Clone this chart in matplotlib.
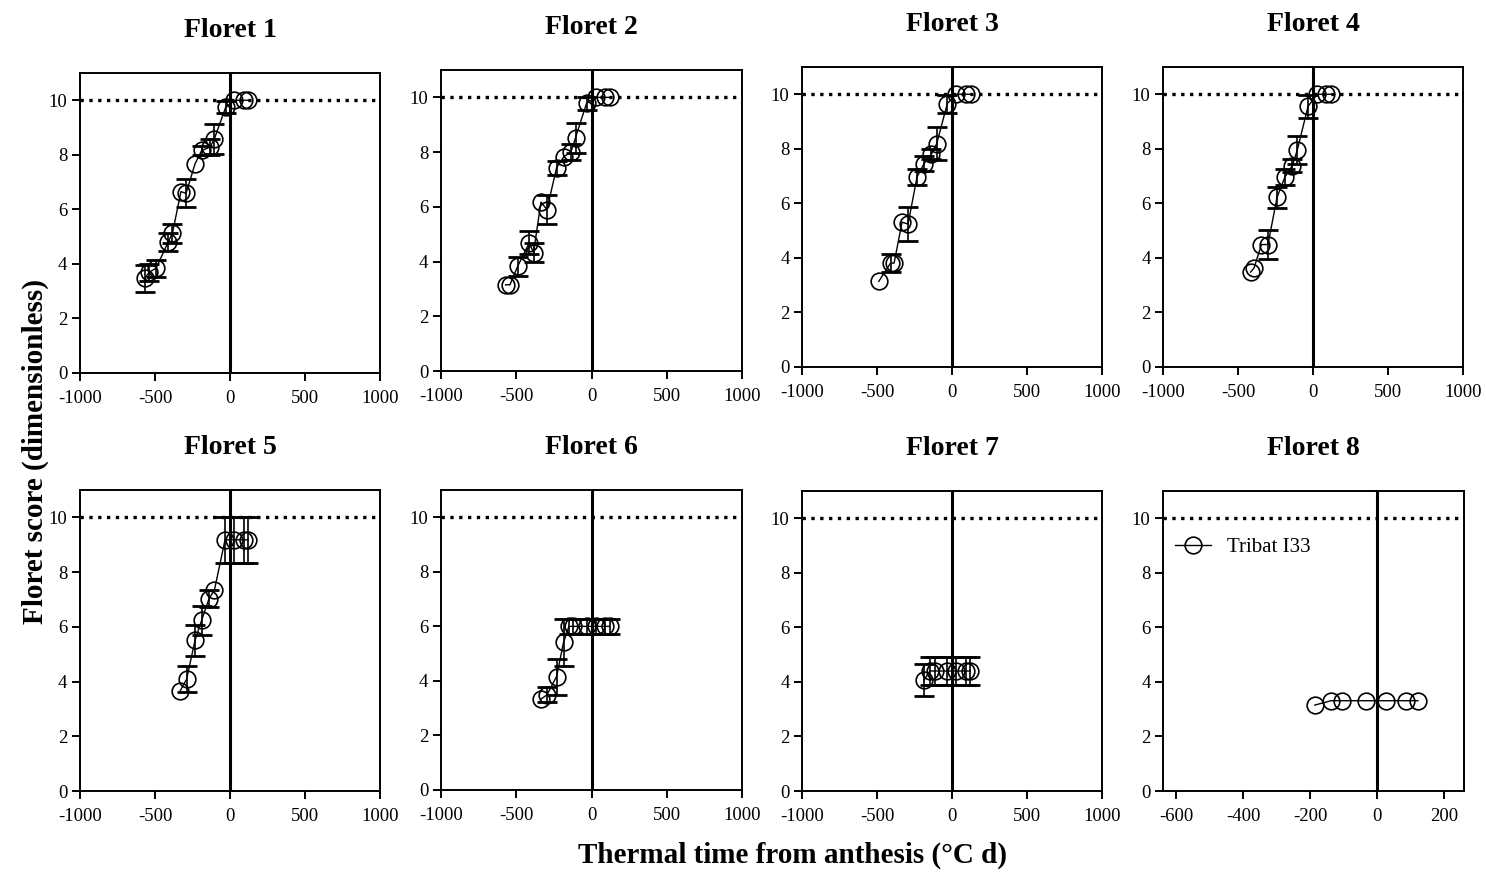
import numpy as np
import matplotlib
matplotlib.use("Agg")
import matplotlib.pyplot as plt

plt.rcParams["font.family"] = ["Liberation Serif", "DejaVu Serif"]
plt.rcParams["axes.unicode_minus"] = False

# thermal time (x), mean floret score (y) and error (e) per floret position
f1_x = [-567, -540, -493, -411, -384, -327, -293, -233, -189, -133, -104, -29, 29, 96, 122]
f1_y = [3.47, 3.69, 3.84, 4.82, 5.12, 6.65, 6.59, 7.67, 8.16, 8.28, 8.59, 9.74, 10.0, 10.0, 10.0]
f1_e = [0.49, 0.30, 0.32, 0.33, 0.35, 0.0, 0.51, 0.0, 0.17, 0.30, 0.55, 0.22, 0.0, 0.0, 0.0]

f2_x = [-571, -542, -491, -414, -385, -336, -296, -232, -184, -137, -106, -33, 27, 93, 122]
f2_y = [3.15, 3.15, 3.82, 4.68, 4.33, 6.17, 5.90, 7.43, 7.83, 8.00, 8.53, 9.78, 10.0, 10.0, 10.0]
f2_e = [0.0, 0.0, 0.33, 0.42, 0.34, 0.0, 0.53, 0.25, 0.0, 0.28, 0.55, 0.24, 0.0, 0.0, 0.0]

f3_x = [-488, -410, -386, -333, -293, -233, -186, -137, -102, -31, 29, 95, 124]
f3_y = [3.14, 3.81, 3.81, 5.31, 5.24, 6.97, 7.46, 7.81, 8.19, 9.66, 10.0, 10.0, 10.0]
f3_e = [0.0, 0.32, 0.0, 0.0, 0.63, 0.29, 0.26, 0.2, 0.61, 0.33, 0.0, 0.0, 0.0]

f4_x = [-416, -393, -344, -300, -240, -187, -138, -104, -33, 29, 89, 122]
f4_y = [3.48, 3.63, 4.49, 4.49, 6.22, 6.97, 7.38, 7.97, 9.56, 10.0, 10.0, 10.0]
f4_e = [0.0, 0.0, 0.0, 0.53, 0.39, 0.29, 0.23, 0.51, 0.42, 0.0, 0.0, 0.0]

f5_x = [-331, -289, -233, -189, -140, -104, -33, 29, 96, 122]
f5_y = [3.67, 4.09, 5.51, 6.24, 7.03, 7.34, 9.18, 9.18, 9.18, 9.18]
f5_e = [0.0, 0.47, 0.57, 0.53, 0.3, 0.0, 0.83, 0.83, 0.83, 0.83]

f6_x = [-336, -296, -232, -186, -150, -120, -33, 27, 93, 120]
f6_y = [3.33, 3.49, 4.16, 5.41, 6.0, 6.0, 6.0, 6.0, 6.0, 6.0]
f6_e = [0.0, 0.28, 0.66, 0.85, 0.28, 0.28, 0.28, 0.28, 0.28, 0.28]

f7_x = [-186, -148, -115, -33, 29, 95, 122]
f7_y = [4.07, 4.40, 4.40, 4.40, 4.40, 4.40, 4.40]
f7_e = [0.6, 0.52, 0.52, 0.52, 0.52, 0.52, 0.52]

f8_x = [-186, -138, -104, -32, 28, 88, 122]
f8_y = [3.15, 3.31, 3.31, 3.31, 3.31, 3.31, 3.31]
f8_e = [0, 0, 0, 0, 0, 0, 0]

florets = [
    ("Floret 1", f1_x, f1_y, f1_e),
    ("Floret 2", f2_x, f2_y, f2_e),
    ("Floret 3", f3_x, f3_y, f3_e),
    ("Floret 4", f4_x, f4_y, f4_e),
    ("Floret 5", f5_x, f5_y, f5_e),
    ("Floret 6", f6_x, f6_y, f6_e),
    ("Floret 7", f7_x, f7_y, f7_e),
    ("Floret 8", f8_x, f8_y, f8_e),
]

W, H = 1486, 876
# panel boxes in pixels: left, top, right, bottom
boxes = [
    (80, 73, 380, 373), (441, 70, 742, 371), (802, 67, 1102, 367), (1163, 67, 1463, 367),
    (80, 490, 380, 791), (441, 490, 742, 790), (802, 491, 1102, 791), (1163, 491, 1464, 791),
]

fig = plt.figure(figsize=(W / 100, H / 100), dpi=100)

for i, ((title, x, y, e), (l, t, r, b)) in enumerate(zip(florets, boxes)):
    ax = fig.add_axes([l / W, 1 - b / H, (r - l) / W, (b - t) / H])
    x = np.array(x, dtype=float)
    y = np.array(y, dtype=float)
    e = np.array(e, dtype=float)

    ax.axhline(10, color="black", linestyle=":", linewidth=2.4, zorder=1)
    ax.axvline(0, color="black", linewidth=2.2, zorder=1)

    m = e > 0
    if m.any():
        ax.errorbar(x[m], y[m], yerr=e[m], fmt="none", ecolor="black",
                    elinewidth=1.2, capsize=7, capthick=2, zorder=2)
    ax.plot(x, y, color="black", linewidth=1.0, marker="o", markersize=12,
            markerfacecolor="none", markeredgecolor="black", markeredgewidth=1.2,
            zorder=3, label="Tribat I33")

    if i == 7:
        ax.set_xlim(-640, 260)
        ax.set_xticks([-600, -400, -200, 0, 200])
        ax.legend(loc="upper left", bbox_to_anchor=(-0.023, 0.907), frameon=False,
                  fontsize=15, handlelength=1.75, handletextpad=0.75)
    else:
        ax.set_xlim(-1000, 1000)
        ax.set_xticks([-1000, -500, 0, 500, 1000])
    ax.set_ylim(0, 11)
    ax.set_yticks([0, 2, 4, 6, 8, 10])

    for s in ax.spines.values():
        s.set_linewidth(1.4)
    ax.tick_params(direction="out", length=6, width=1.4, labelsize=13.5)
    ax.tick_params(axis="x", pad=6)
    ax.tick_params(axis="y", pad=3)

    ax.set_title(title, fontsize=20, fontweight="bold", pad=26)

fig.text(35 / W, 1 - 451 / H, "Floret score (dimensionless)", rotation=90,
         ha="center", va="center", fontsize=21, fontweight="bold")
fig.text(793 / W, 1 - 855 / H, "Thermal time from anthesis (\u00b0C d)",
         ha="center", va="center", fontsize=21, fontweight="bold")

fig.savefig("out.png", dpi=100)
